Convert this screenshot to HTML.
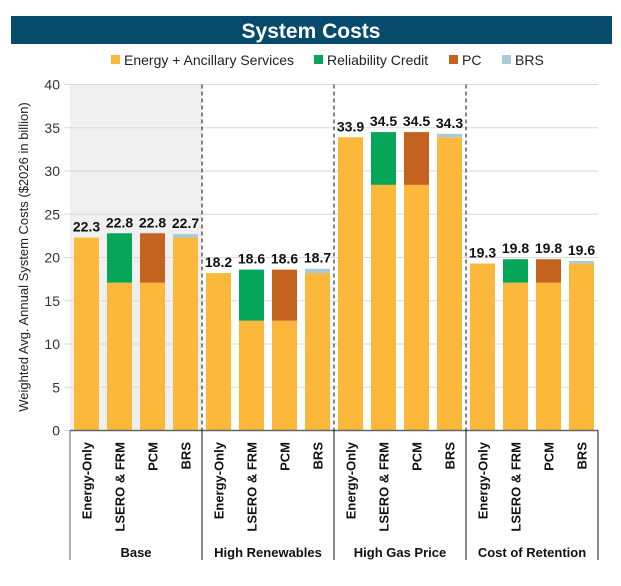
<!DOCTYPE html>
<html><head><meta charset="utf-8"><style>
body{margin:0;background:#fff;font-family:"Liberation Sans",sans-serif}
</style></head><body>
<svg id="c" width="621" height="581" xmlns="http://www.w3.org/2000/svg" font-family="Liberation Sans, sans-serif">
<rect x="11" y="16" width="601" height="28" fill="#064b6b"/>
<text x="311" y="38" text-anchor="middle" fill="#fff" font-size="21" font-weight="bold">System Costs</text>
<g id="legend" font-size="14" fill="#222"></g>
<g id="plot"></g>
</svg>
<script>
const groups=["Base","High Renewables","High Gas Price","Cost of Retention"];
const cats=["Energy-Only","LSERO & FRM","PCM","BRS"];
const energy=[22.3,17.1,17.1,22.3, 18.2,12.7,12.7,18.2, 33.9,28.4,28.4,33.9, 19.3,17.1,17.1,19.3];
const rc=[0,5.7,0,0, 0,5.9,0,0, 0,6.1,0,0, 0,2.7,0,0];
const pc=[0,0,5.7,0, 0,0,5.9,0, 0,0,6.1,0, 0,0,2.7,0];
const brs=[0,0,0,0.4, 0,0,0,0.5, 0,0,0,0.4, 0,0,0,0.3];
const totals=["22.3","22.8","22.8","22.7","18.2","18.6","18.6","18.7","33.9","34.5","34.5","34.3","19.3","19.8","19.8","19.6"];
const yTicks=[0,5,10,15,20,25,30,35,40];
const seriesNames=["Energy + Ancillary Services","Reliability Credit","PC","BRS"];
const colors=["#fbb83a","#05a658","#c4621f","#a9cad6"];

const NS="http://www.w3.org/2000/svg";
const X0=70,X1=598,Y0=430.5,Y40=84.5;
const y=v=>Y0-(v/40)*(Y0-Y40);
const slot=(X1-X0)/16;
function mk(t,a,p){const e=document.createElementNS(NS,t);for(const k in a)e.setAttribute(k,a[k]);(p||document.getElementById('plot')).appendChild(e);return e;}
const sh=mk('rect',{x:X0,y:Y40,width:slot*4,height:Y0-Y40,fill:'#f0f0f0'});


yTicks.forEach(t=>{
  const l=mk('line',{x1:X0-6,x2:X1,y1:y(t),y2:y(t),stroke:'#d9d9d9','stroke-width':1});
  
  
  const tx=mk('text',{x:X0-10,y:y(t)+5,'text-anchor':'end','font-size':14,fill:'#333'});
  tx.textContent=t;
  
  
});
const yt=mk('text',{transform:'translate(28,257) rotate(-90)','text-anchor':'middle','font-size':13,fill:'#222'});
yt.textContent='Weighted Avg. Annual System Costs ($2026 in billion)';


const series=[energy,rc,pc,brs];
for(let i=0;i<16;i++){
  const bx=X0+i*slot+4, bw=slot-8;
  let base=0;
  series.forEach((s,k)=>{
    if(s[i]>0){
      const r=mk('rect',{x:bx,y:y(base+s[i]),width:bw,height:y(base)-y(base+s[i]),fill:colors[k]});
      
      
      base+=s[i];
    }
  });
  const lb=mk('text',{x:bx+bw/2,y:y(base)-6,'text-anchor':'middle','font-size':14,'font-weight':'bold',fill:'#111'});
  lb.textContent=totals[i];
  
  
  const cl=mk('text',{transform:`translate(${bx+bw/2+5},442) rotate(-90)`,'text-anchor':'end','font-size':13,'font-weight':'bold',fill:'#111'});
  cl.textContent=cats[i%4];
  
  
}
const ax=mk('line',{x1:X0,x2:X1,y1:Y0,y2:Y0,stroke:'#666','stroke-width':1.5});


for(let g=0;g<=4;g++){
  const sx=X0+g*slot*4;
  if(g>0&&g<4){
    const d=mk('line',{x1:sx,x2:sx,y1:Y40,y2:Y0,stroke:'#111','stroke-dasharray':'4,3','stroke-width':1});
    
    
  }
  const s=mk('line',{x1:sx,x2:sx,y1:Y0,y2:560,stroke:g==0?'#666':'#111','stroke-width':1});
  
  
}
groups.forEach((gname,g)=>{
  const t=mk('text',{x:X0+g*slot*4+slot*2,y:557,'text-anchor':'middle','font-size':13,'font-weight':'bold',fill:'#111'});
  t.textContent=gname;
  
  
});
const leg=document.getElementById('legend');
const lx=[111,314,449,502];
seriesNames.forEach((n,k)=>{
  const r=mk('rect',{x:lx[k],y:55,width:9,height:9,fill:colors[k]},leg);
  
  
  const t=mk('text',{x:lx[k]+13,y:65},leg);
  t.textContent=n;
  
  
});
</script>
</body></html>
